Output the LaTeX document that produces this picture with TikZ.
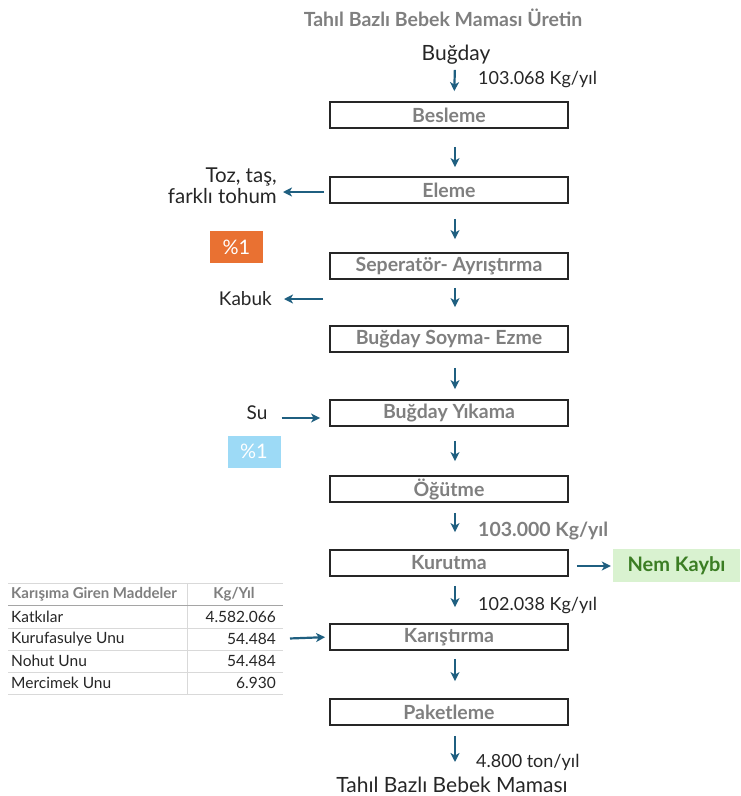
\documentclass[tikz,border=0pt]{standalone}
\usepackage{fontspec}
\setmainfont{Lato}
\usepackage{tikz}
\usetikzlibrary{arrows.meta,positioning,calc}
\definecolor{flowblue}{HTML}{1F5F80}
\definecolor{labelgray}{HTML}{7F7F7F}
\definecolor{textgray}{HTML}{262626}
\definecolor{rateorange}{HTML}{E97132}
\definecolor{rateblue}{HTML}{9DDAF6}
\definecolor{lossgreen}{HTML}{D9F2D0}
\definecolor{lossdark}{HTML}{3B7D23}
\definecolor{rulegray}{HTML}{D9D9D9}

\begin{document}
\begin{tikzpicture}[x=1pt, y=-1pt,
    stepbox/.style={rectangle, draw=textgray, line width=1.8pt, minimum width=238pt,
                minimum height=26pt, inner sep=0pt, text=labelgray,
                font=\fontsize{19.5}{21}\selectfont\bfseries},
    txt/.style={inner sep=0pt, text=textgray, font=\fontsize{21}{24}\selectfont},
    ratetxt/.style={inner sep=0pt, text=textgray, font=\fontsize{18}{21}\selectfont},
    tbl/.style={inner sep=0pt, text=textgray, font=\fontsize{15.5}{17}\selectfont},
    rate/.style={rectangle, minimum width=53pt, minimum height=32pt, inner sep=0pt,
                text=white, font=\fontsize{20}{22}\selectfont},
    arr/.style={-{Stealth[length=9pt,width=9pt,inset=2.5pt]}, line width=2.2pt, flowblue},
    flow/.style args={#1/#2}{arr, shorten <=#1, shorten >=#2}]
    \useasboundingbox (0,0) rectangle (740,796);
    % title
    \node[inner sep=0pt, text=labelgray, font=\fontsize{19.5}{22}\selectfont\bfseries]
        (title) at (443,18) {Tahıl Bazlı Bebek Maması Üretin};
    % main line
    \node[txt] (bugday) at (456,55) {Buğday};
    \node[stepbox] (bes) at (449,115) {Besleme};
    \node[stepbox] (ele) at (449,190) {Eleme};
    \node[stepbox] (sep) at (449,266) {Seperatör- Ayrıştırma};
    \node[stepbox] (soy) at (449,339) {Buğday Soyma- Ezme};
    \node[stepbox] (yik) at (449,413) {Buğday Yıkama};
    \node[stepbox] (ogu) at (449,489) {Öğütme};
    \node[stepbox] (kur) at (449,563) {Kurutma};
    \node[stepbox] (kar) at (449,637) {Karıştırma};
    \node[stepbox] (pak) at (449,712) {Paketleme};
    \node[txt] (urun) at (452,785) {Tahıl Bazlı Bebek Maması};
    \draw[flow=5/10] ($(bugday.south)+(-1,0)$) -- ($(bes.north)+(5,0)$);
    \draw[flow=18/9] ($(bes.south)+(6,0)$) -- ($(ele.north)+(6,0)$);
    \draw[flow=15/13] ($(ele.south)+(6,0)$) -- ($(sep.north)+(6,0)$);
    \draw[flow=8/18] ($(sep.south)+(6,0)$) -- ($(soy.north)+(6,0)$);
    \draw[flow=15/10] ($(soy.south)+(6,0)$) -- ($(yik.north)+(6,0)$);
    \draw[flow=14/14] ($(yik.south)+(6,0)$) -- ($(ogu.north)+(6,0)$);
    \draw[flow=10/17] ($(ogu.south)+(6,0)$) -- ($(kur.north)+(6,0)$);
    \draw[flow=9/16] ($(kur.south)+(6,0)$) -- ($(kar.north)+(6,0)$);
    \draw[flow=8/17] ($(kar.south)+(6,0)$) -- ($(pak.north)+(6,0)$);
    \draw[flow=10/15] ($(pak.south)+(6,0)$) -- ($(urun.north)+(3,0)$);
    % flow rates
    \node[ratetxt, anchor=west] (r1) at (478,80) {103.068 Kg/yıl};
    \node[ratetxt, anchor=west, text=labelgray, font=\fontsize{19.5}{22}\selectfont\bfseries]
        (r2) at (478,531) {103.000 Kg/yıl};
    \node[ratetxt, anchor=west] (r3) at (478,606) {102.038 Kg/yıl};
    \node[ratetxt, anchor=west] (r4) at (476,762) {4.800 ton/yıl};
    % side streams
    \node[txt, anchor=east, align=right, font=\fontsize{20.5}{21}\selectfont]
        (toz) at (277,186) {Toz, taş,\\farklı tohum};
    \draw[arr, shorten <=5pt, shorten >=6pt] ($(ele.west)+(0,2)$) -- (toz.east |- 0,192);
    \node[rate, fill=rateorange] (p1) at (236.5,247) {\%1};
    \node[txt, anchor=east, font=\fontsize{19}{21}\selectfont] (kab) at (272,299) {Kabuk};
    \draw[arr, shorten <=6pt, shorten >=12pt] (sep.west |- kab) -- (kab.east);
    \node[txt, font=\fontsize{19}{21}\selectfont] (su) at (257,413) {Su};
    \draw[arr, shorten <=14pt, shorten >=9pt] (su.east |- 0,418) -- (yik.west |- 0,418);
    \node[rate, fill=rateblue] (p2) at (254,451.5) {\%1};
    \node[rectangle, fill=lossgreen, minimum width=127pt, minimum height=33pt, inner sep=0pt,
        text=lossdark, font=\fontsize{20}{22}\selectfont\bfseries] (nem) at (676.5,565.5) {Nem Kaybı};
    \draw[arr, shorten <=8pt, shorten >=2pt] (kur.east |- 0,566) -- (nem.west |- 0,566);
    % mixing table
    \fill[white] (8,583) rectangle (283,694);
    \node[tbl, anchor=west, text=labelgray, font=\fontsize{15}{17}\selectfont\bfseries]
        (h1) at (11,594) {Karışıma Giren Maddeler};
    \node[tbl, text=labelgray, font=\fontsize{15}{17}\selectfont\bfseries] (h2) at (234,594) {Kg/Yıl};
    \node[tbl, anchor=west] (k1) at (11,617) {Katkılar};
    \node[tbl, anchor=east] (v1) at (276,617) {4.582.066};
    \node[tbl, anchor=west] (k2) at (11,639) {Kurufasulye Unu};
    \node[tbl, anchor=east] (v2) at (276,639) {54.484};
    \node[tbl, anchor=west] (k3) at (11,661) {Nohut Unu};
    \node[tbl, anchor=east] (v3) at (276,661) {54.484};
    \node[tbl, anchor=west] (k4) at (11,683) {Mercimek Unu};
    \node[tbl, anchor=east] (v4) at (276,683) {6.930};
    \draw[rulegray, line width=0.8pt] (8,583) -- (283,583);
    \draw[rulegray, line width=0.8pt] (187,583) -- (187,694);
    \foreach \yy in {628,650,672,694}
        \draw[rulegray, line width=0.8pt] (8,\yy) -- (283,\yy);
    \draw[labelgray!70, line width=1.6pt] (8,605.5) -- (283,605.5);
    \draw[arr, shorten <=14pt, shorten >=4pt] (v2.east) -- (kar.west);
\end{tikzpicture}
\end{document}
